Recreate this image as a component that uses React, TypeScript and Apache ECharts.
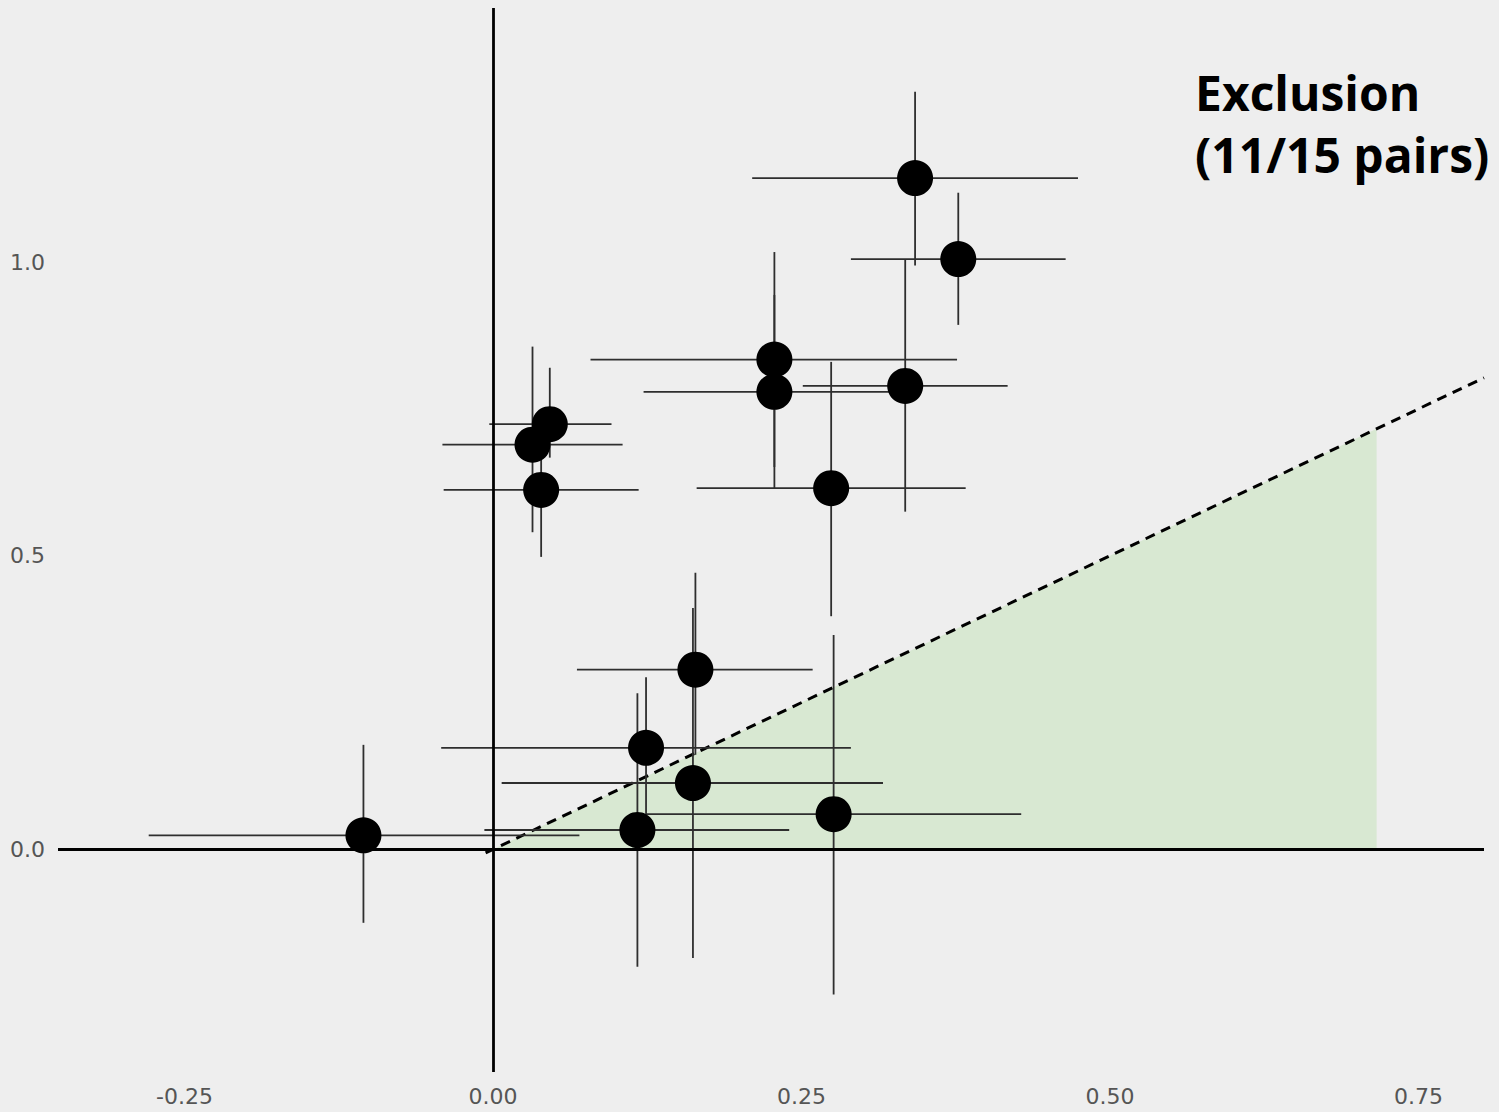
import React, { useEffect, useRef } from "react";
import * as echarts from "echarts";

// point estimates
const xs = [-0.105, 0.117, 0.124, 0.162, 0.164, 0.276, 0.039, 0.032, 0.046, 0.228, 0.228, 0.274, 0.334, 0.342, 0.377];
const ys = [0.024, 0.033, 0.173, 0.113, 0.306, 0.060, 0.612, 0.689, 0.724, 0.834, 0.779, 0.615, 0.789, 1.143, 1.005];
// horizontal intervals
const xLo = [-0.279, -0.007, -0.042, 0.007, 0.068, 0.124, -0.040, -0.041, -0.003, 0.079, 0.122, 0.165, 0.251, 0.210, 0.290];
const xHi = [0.070, 0.240, 0.290, 0.316, 0.259, 0.428, 0.118, 0.105, 0.096, 0.376, 0.322, 0.383, 0.417, 0.474, 0.464];
// vertical intervals
const yLo = [-0.125, -0.200, 0.058, -0.185, 0.161, -0.247, 0.498, 0.540, 0.667, 0.651, 0.615, 0.397, 0.575, 0.994, 0.893];
const yHi = [0.178, 0.266, 0.293, 0.411, 0.471, 0.365, 0.748, 0.856, 0.820, 0.944, 1.017, 0.830, 1.004, 1.290, 1.118];

// reference diagonal and shaded region
const diagonal = [[-0.006, -0.006], [0.803, 0.803]];
const shaded = [[0, 0], [0.716, 0.716]];

const xTicks = [-0.25, 0, 0.25, 0.5, 0.75];
const yTicks = [0, 0.5, 1.0];
const xRange = [-0.3525, 0.803];
const yRange = [-0.379, 1.4325];

const titleText = "Exclusion\n(11/15 pairs)";

export default function App() {
  const ref = useRef<HTMLDivElement>(null);
  useEffect(() => {
    document.body.style.margin = "0";
    document.body.style.background = "#eeeeee";
    const chart = echarts.init(ref.current!, null, { renderer: "svg" });
    const barData = xs.map((x, i) => [xLo[i], xHi[i], yLo[i], yHi[i], x, ys[i]]);
    chart.setOption({
      animation: false,
      backgroundColor: "#eeeeee",
      grid: { left: 58, right: 15, top: 8, bottom: 40 },
      xAxis: {
        type: "value",
        min: xRange[0],
        max: xRange[1],
        axisLine: { show: false },
        axisTick: { show: false },
        splitLine: { show: false },
        axisLabel: {
          customValues: xTicks,
          formatter: (v: number) => v.toFixed(2),
          color: "#555555",
          fontFamily: "DejaVu Sans",
          fontSize: 22,
          margin: 13,
        },
      },
      yAxis: {
        type: "value",
        min: yRange[0],
        max: yRange[1],
        axisLine: { show: false },
        axisTick: { show: false },
        splitLine: { show: false },
        axisLabel: {
          customValues: yTicks,
          formatter: (v: number) => v.toFixed(1),
          color: "#555555",
          fontFamily: "DejaVu Sans",
          fontSize: 22,
          margin: 13,
        },
      },
      graphic: [
        {
          type: "text",
          left: 1195,
          top: 61,
          style: {
            text: titleText,
            font: 'bold 48px "Open Sans"',
            fill: "#000000",
            lineHeight: 62,
          },
        },
      ],
      series: [
        {
          type: "line",
          data: shaded,
          showSymbol: false,
          symbol: "none",
          lineStyle: { width: 0, opacity: 0 },
          areaStyle: { color: "#d8e8d2", opacity: 1 },
          silent: true,
          z: 1,
        },
        {
          type: "line",
          data: diagonal,
          symbol: "none",
          lineStyle: { type: [10, 7], width: 3, color: "#000000" },
          silent: true,
          z: 2,
          markLine: {
            silent: true,
            symbol: ["none", "none"],
            label: { show: false },
            lineStyle: { type: "solid", color: "#000000", width: 2.8 },
            data: [{ xAxis: 0 }, { yAxis: 0 }],
          },
        },
        {
          type: "custom",
          data: barData,
          encode: { x: [0, 1, 4], y: [2, 3, 5] },
          z: 3,
          silent: true,
          renderItem: (params: any, api: any) => {
            const x = api.value(4);
            const y = api.value(5);
            const a = api.coord([api.value(0), y]);
            const b = api.coord([api.value(1), y]);
            const c = api.coord([x, api.value(2)]);
            const d = api.coord([x, api.value(3)]);
            const st = { stroke: "#2e2e2e", lineWidth: 1.8 };
            return {
              type: "group",
              children: [
                { type: "line", shape: { x1: a[0], y1: a[1], x2: b[0], y2: b[1] }, style: st },
                { type: "line", shape: { x1: c[0], y1: c[1], x2: d[0], y2: d[1] }, style: st },
              ],
            };
          },
        },
        {
          type: "scatter",
          data: xs.map((x, i) => [x, ys[i]]),
          symbol: "circle",
          symbolSize: 36,
          itemStyle: { color: "#000000", opacity: 1 },
          z: 4,
        },
      ],
    });
    return () => chart.dispose();
  }, []);
  return <div ref={ref} style={{ width: 1499, height: 1112, background: "#eeeeee" }} />;
}
